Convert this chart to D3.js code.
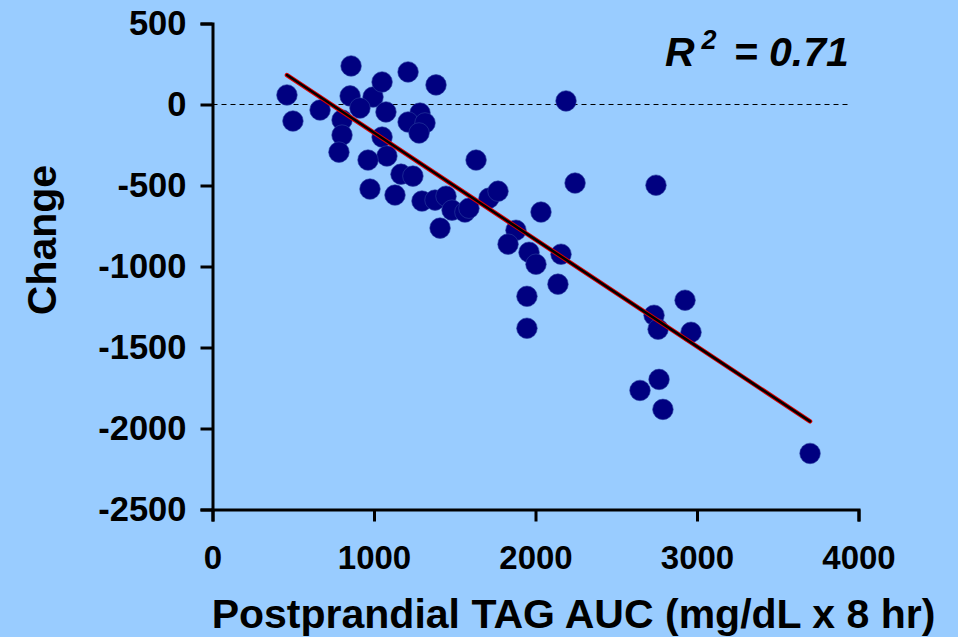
<!DOCTYPE html>
<html>
<head>
<meta charset="utf-8">
<script src="https://cdn.jsdelivr.net/npm/d3@7"></script>
<style>
  html, body { margin: 0; padding: 0; background: #99ccff; }
  svg { display: block; font-family: "Liberation Sans", Arial, sans-serif; font-weight: bold; }
</style>
</head>
<body>
<script>
// postprandial TAG AUC vs change
const auc = [461, 498, 666, 858, 852, 994, 913, 802, 802, 783,
  1050, 1074, 1211, 1050, 1080, 963, 1167, 1241, 975, 1130,
  1384, 1285, 1211, 1316, 1279, 1632, 1297, 1378, 1446, 1483,
  1563, 1588, 1409, 1712, 1768, 2245, 2034, 1879, 1830, 1960,
  2003, 2158, 2139, 1947, 1947, 2189, 2746, 2926, 2734, 2759,
  2963, 2765, 2647, 2789, 3700];
const change = [59, -102, -34, 238, 53, 46, -22, -96, -189, -294,
  139, -46, 201, -201, -318, -343, -430, -442, -522, -559,
  121, -53, -108, -114, -176, -343, -596, -590, -566, -652,
  -664, -640, -763, -578, -535, -485, -664, -776, -862, -912,
  -986, -924, -1109, -1184, -1381, 22, -498, -1208, -1301, -1387,
  -1406, -1697, -1765, -1882, -2154];

const fitX = [461, 3700];
const fitY = [182, -1956];

const xTicks = [0, 1000, 2000, 3000, 4000];
const yTicks = [500, 0, -500, -1000, -1500, -2000, -2500];

const width = 958, height = 637;
const margin = {top: 23.5, right: 99.5, bottom: 127.5, left: 212.5};

const svg = d3.select("body").append("svg")
    .attr("width", width)
    .attr("height", height);

svg.append("rect")
    .attr("width", width)
    .attr("height", height)
    .attr("fill", "#99ccff");

const x = d3.scaleLinear()
    .domain([0, 4000])
    .range([margin.left, width - margin.right]);

const y = d3.scaleLinear()
    .domain([-2500, 500])
    .range([height - margin.bottom, margin.top]);

// zero reference
svg.append("line")
    .attr("x1", x(0)).attr("x2", x(3935))
    .attr("y1", y(0)).attr("y2", y(0))
    .attr("stroke", "#000")
    .attr("stroke-width", 1.2)
    .attr("stroke-dasharray", "5,4");

// plain hyphen for negatives, like the original slide
const fmt = d => String(d);

const styleAxis = size => g => g
    .call(g => g.select(".domain").attr("stroke-width", 3))
    .call(g => g.selectAll(".tick line").attr("stroke-width", 3))
    .call(g => g.selectAll(".tick text")
        .attr("font-size", size).attr("font-weight", "bold").attr("font-family", null).attr("fill", "#000"));

svg.append("g")
    .attr("transform", `translate(0,${y(-2500)})`)
    .call(d3.axisBottom(x).tickValues(xTicks).tickSize(12).tickPadding(24).tickFormat(fmt))
    .call(styleAxis(33));

svg.append("g")
    .attr("transform", `translate(${x(0)},0)`)
    .call(d3.axisLeft(y).tickValues(yTicks).tickSize(12).tickPadding(14).tickFormat(fmt))
    .call(styleAxis(34.5));

// points
svg.append("g")
  .selectAll("circle")
  .data(auc.map((d, i) => [d, change[i]]))
  .join("circle")
    .attr("cx", d => x(d[0]))
    .attr("cy", d => y(d[1]))
    .attr("r", 10.3)
    .attr("fill", "#000080")
    .attr("stroke", "#2a3fa0")
    .attr("stroke-width", 0.6);

// regression line: red edge, black core
const fit = fitX.map((d, i) => [x(d), y(fitY[i])]);
svg.append("path")
    .attr("d", d3.line()(fit))
    .attr("stroke", "#e00000")
    .attr("stroke-width", 4.5)
    .attr("stroke-linecap", "round")
    .attr("fill", "none");
svg.append("path")
    .attr("d", d3.line()(fit))
    .attr("stroke", "#000")
    .attr("stroke-width", 2.6)
    .attr("stroke-linecap", "round")
    .attr("fill", "none");

// titles
svg.append("text")
    .attr("x", 573.5)
    .attr("y", 628)
    .attr("text-anchor", "middle")
    .attr("font-size", 41)
    .text("Postprandial TAG AUC (mg/dL x 8 hr)");

svg.append("text")
    .attr("transform", `translate(56,240) rotate(-90)`)
    .attr("text-anchor", "middle")
    .attr("font-size", 41)
    .text("Change");

const r2 = svg.append("text")
    .attr("x", 665)
    .attr("y", 66)
    .attr("font-size", 41)
    .attr("font-style", "italic");
r2.append("tspan").text("R");
r2.append("tspan").attr("font-size", 27).attr("dy", -17).attr("dx", 7).text("2");
r2.append("tspan").attr("dy", 17).attr("dx", 17).text("= 0.71");
</script>
</body>
</html>
